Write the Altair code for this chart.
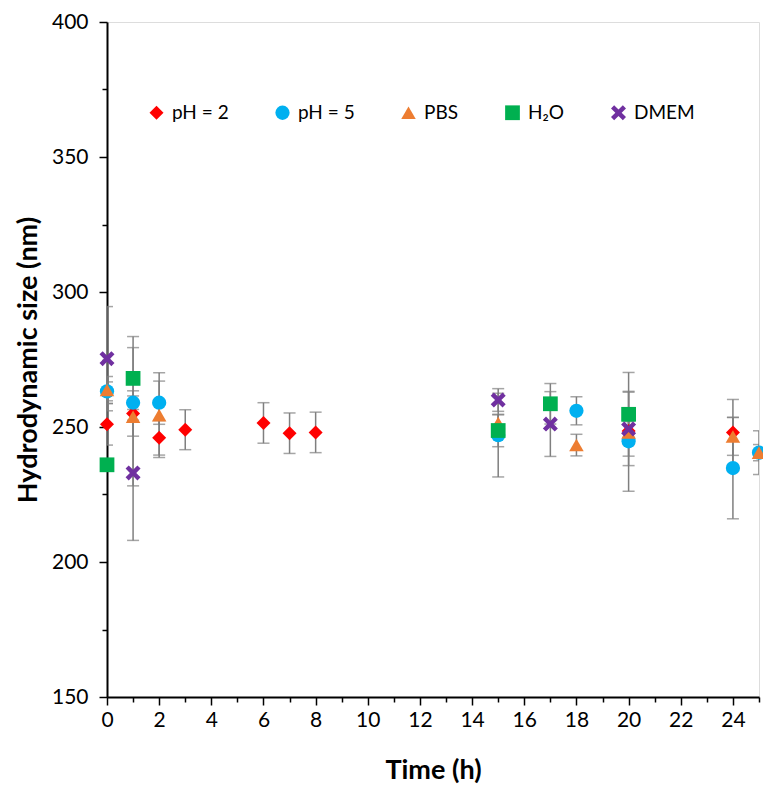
import altair as alt
import pandas as pd

series_names = ["pH = 2", "pH = 5", "PBS", "H₂O", "DMEM"]
colors = ["#FF0000", "#00B0F0", "#ED7D31", "#00B050", "#7030A0"]
x_path = ("M-1,-0.58L-0.58,-1L0,-0.42L0.58,-1L1,-0.58L0.42,0L1,0.58L0.58,1"
          "L0,0.42L-0.58,1L-1,0.58L-0.42,0Z")
shapes = ["diamond", "circle", "triangle-up", "square", x_path]
sizes = [196, 225, 196, 160, 280]

ph2_t = [0, 1, 2, 3, 6, 7, 8, 20, 24]
ph2_v = [251, 255, 246, 249, 251.5, 247.7, 248, 248.5, 248]
ph2_e = [7.7, 8.4, 6.4, 7.4, 7.5, 7.5, 7.5, 5, 12.2]

ph5_t = [0, 1, 2, 15, 18, 20, 24, 25]
ph5_v = [263.2, 259, 259, 247, 256, 244.7, 234.8, 240.5]
ph5_e = [3.5, 2.5, 8, 15.5, 5.2, 18.5, 18.8, 8.1]

pbs_t = [0, 1, 2, 15, 18, 20, 24, 25]
pbs_v = [263.7, 253.8, 254.4, 251.5, 243.3, 248, 246.5, 240.5]
pbs_e = [5, 25.6, 15.7, 3, 4, 4, 7, 3]

h2o_t = [0, 1, 15, 17, 20]
h2o_v = [236, 268, 248.7, 258.6, 254.7]
h2o_e = [2, 15.5, 6, 7.5, 15.5]

dmem_t = [0, 1, 15, 17, 20]
dmem_v = [275.3, 233, 260, 251.1, 249.3]
dmem_e = [19.3, 25, 4.2, 12, 13.6]

groups = [(ph2_t, ph2_v, ph2_e), (ph5_t, ph5_v, ph5_e), (pbs_t, pbs_v, pbs_e),
          (h2o_t, h2o_v, h2o_e), (dmem_t, dmem_v, dmem_e)]
rows = []
k = 0
for name, (ts, vs, es) in zip(series_names, groups):
    for t, v, e in zip(ts, vs, es):
        rows.append({"time": t, "val": v, "lo": v - e, "hi": v + e,
                     "series": name, "ord": k})
        k += 1
df = pd.DataFrame(rows)

FONT = "Lato"
xscale = alt.Scale(domain=[0, 25], nice=False, zero=False)
yscale = alt.Scale(domain=[150, 400], nice=False, zero=False)

xaxis = alt.Axis(
    values=list(range(0, 26)),
    labelExpr="(datum.value % 2 == 0 && datum.value <= 24) ? datum.label : ''",
    tickSize={"condition": {"test": "datum.value % 2 == 0", "value": 8}, "value": 5},
    grid=False, domainColor="black", domainWidth=2, tickColor="black", tickWidth=1.5,
    labelFont=FONT, labelFontSize=21, labelColor="black", labelPadding=4,
    titleFont=FONT, titleFontSize=27, titleFontWeight="bold", titleColor="black",
    titlePadding=27, labelFlush=False, labelOverlap=False,
)
yaxis = alt.Axis(
    values=list(range(150, 401, 25)),
    labelExpr="datum.value % 50 == 0 ? datum.label : ''",
    tickSize={"condition": {"test": "datum.value % 50 == 0", "value": 8}, "value": 5},
    grid=False, domainColor="black", domainWidth=2, tickColor="black", tickWidth=1.5,
    labelFont=FONT, labelFontSize=21, labelColor="black", labelPadding=11,
    titleFont=FONT, titleFontSize=27, titleFontWeight="bold", titleColor="black",
    titlePadding=9, labelFlush=False, labelOverlap=False,
)

X = alt.X("time:Q", scale=xscale, axis=xaxis, title="Time (h)")

def Y(field):
    return alt.Y(field, type="quantitative", scale=yscale, axis=yaxis,
                 title="Hydrodynamic size (nm)")

base = alt.Chart(df)

bars = base.mark_rule(color="#7F7F7F", strokeWidth=1.5, clip=True).encode(
    x=X, y=Y("lo"), y2="hi")

caps = base.transform_fold(["lo", "hi"], as_=["which", "cap"]).mark_tick(
    orient="horizontal", color="#7F7F7F", size=12, thickness=1.5, clip=True
).encode(x=X, y=Y("cap"))

legend = alt.Legend(title=None, orient="none", legendX=40, legendY=81,
                    direction="horizontal", columns=5,
                    symbolSize=150, symbolStrokeWidth=0,
                    labelFont=FONT, labelFontSize=19,
                    labelColor="black", labelOffset=6,
                    columnPadding=44)

points = base.mark_point(filled=True, opacity=1, strokeWidth=0).encode(
    x=X, y=Y("val"),
    color=alt.Color("series:N", scale=alt.Scale(domain=series_names, range=colors),
                    legend=legend),
    shape=alt.Shape("series:N", scale=alt.Scale(domain=series_names, range=shapes),
                    legend=legend),
    size=alt.Size("series:N", scale=alt.Scale(domain=series_names, range=sizes), legend=None),
    order=alt.Order("ord:Q"),
)

chart = alt.layer(bars, caps, points).properties(
    width=652, height=675,
    autosize=alt.AutoSizeParams(type="none"),
    padding={"left": 99, "top": 14, "right": 4, "bottom": 90},
).configure_view(stroke="black", strokeWidth=2).configure(background="white")

chart.save("out.html", embed_options={"renderer": "svg", "actions": False})
